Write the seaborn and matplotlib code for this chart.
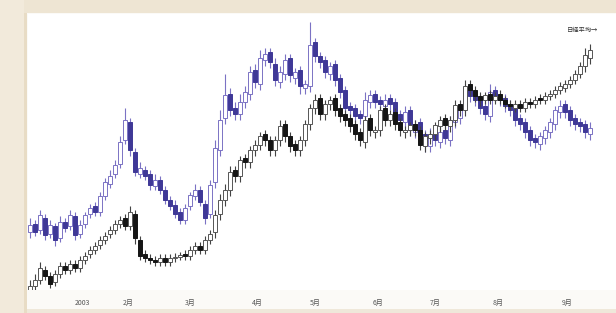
import numpy as np
import pandas as pd
import seaborn as sns
import matplotlib.pyplot as plt
from matplotlib.patches import Rectangle

# ---------------- data (arbitrary price units) -------------
month_pos = [10.4, 19.6, 32, 45.4, 57, 69.6, 81, 93.6, 107.4]
month_labels = ["2003", "2月", "3月", "4月", "5月", "6月", "7月", "8月", "9月"]
legend_text = "日経平均→"

blue_open = [68, 76, 70, 82, 66, 74, 62, 78, 74, 84,
             66, 76, 86, 94, 88, 104, 116, 126, 136, 160,
             178, 148, 126, 130, 126, 114, 120, 110, 100, 95,
             88, 80, 94, 104, 110, 96, 86, 118, 150, 182,
             206, 192, 186, 198, 206, 230, 216, 240, 248, 236,
             218, 226, 242, 222, 230, 212, 214, 258, 244, 240,
             226, 236, 222, 210, 194, 192, 186, 184, 198, 206,
             200, 194, 202, 198, 186, 178, 190, 168, 178, 166,
             154, 168, 158, 170, 160, 178, 182, 194, 212, 206,
             202, 194, 184, 210, 202, 202, 196, 192, 182, 178,
             170, 162, 156, 162, 168, 176, 188, 196, 190, 182,
             178, 176, 166]
blue_close = [75, 68, 85, 65, 75, 60, 78, 72, 85, 65,
              75, 85, 92, 88, 104, 118, 124, 135, 158, 180,
              150, 128, 132, 124, 115, 120, 110, 100, 94, 86,
              80, 92, 105, 110, 98, 82, 115, 152, 180, 205,
              190, 186, 198, 208, 228, 218, 242, 246, 238, 220,
              228, 240, 225, 228, 214, 216, 255, 244, 238, 228,
              234, 220, 208, 192, 190, 184, 182, 200, 205, 198,
              196, 200, 196, 184, 180, 188, 170, 176, 164, 155,
              166, 160, 168, 162, 180, 184, 192, 210, 204, 200,
              192, 186, 208, 204, 200, 194, 190, 180, 176, 168,
              160, 158, 164, 170, 178, 190, 194, 188, 180, 176,
              174, 168, 172]
blue_high = [82, 80, 90, 86, 80, 77, 84, 82, 90, 88,
             80, 88, 96, 98, 108, 122, 130, 140, 164, 192,
             182, 152, 138, 134, 130, 126, 124, 114, 104, 100,
             92, 96, 108, 116, 114, 100, 120, 160, 190, 226,
             212, 198, 206, 214, 234, 236, 250, 252, 252, 242,
             234, 246, 246, 232, 234, 220, 278, 262, 248, 244,
             238, 240, 226, 214, 198, 196, 190, 208, 210, 210,
             204, 206, 206, 202, 190, 194, 194, 180, 182, 170,
             172, 172, 174, 174, 184, 188, 196, 216, 216, 210,
             206, 198, 216, 214, 206, 206, 200, 196, 186, 182,
             174, 166, 168, 174, 182, 194, 200, 200, 194, 186,
             182, 180, 178]
blue_low = [62, 64, 66, 60, 62, 54, 58, 68, 70, 60,
            62, 72, 82, 84, 84, 100, 112, 122, 132, 156,
            144, 124, 122, 120, 110, 110, 106, 96, 90, 82,
            76, 76, 90, 100, 94, 76, 82, 112, 144, 176,
            184, 180, 180, 192, 200, 212, 210, 234, 232, 214,
            212, 220, 218, 216, 206, 206, 208, 238, 232, 222,
            220, 214, 202, 186, 184, 178, 176, 178, 192, 192,
            190, 188, 190, 178, 174, 172, 164, 162, 158, 148,
            148, 154, 152, 156, 154, 172, 176, 188, 198, 194,
            186, 180, 178, 198, 194, 188, 184, 174, 170, 162,
            154, 152, 150, 156, 162, 170, 182, 182, 174, 170,
            168, 162, 160]

black_open = [8, 14, 20, 30, 24, 18, 26, 34, 30, 36,
              32, 40, 46, 50, 55, 60, 66, 70, 76, 82,
              74, 86, 60, 46, 42, 40, 38, 42, 38, 42,
              43, 46, 44, 50, 54, 50, 60, 68, 86, 100,
              110, 130, 124, 142, 138, 150, 155, 166, 160, 150,
              160, 176, 164, 156, 150, 160, 176, 192, 202, 186,
              196, 202, 192, 186, 182, 176, 168, 158, 182, 168,
              170, 192, 180, 188, 178, 168, 170, 176, 170, 154,
              162, 166, 174, 182, 174, 180, 196, 190, 216, 210,
              204, 200, 206, 200, 206, 200, 196, 192, 196, 192,
              198, 196, 202, 200, 204, 206, 210, 212, 216, 220,
              226, 234, 242]
black_close = [14, 20, 32, 24, 16, 26, 34, 30, 36, 32,
               40, 44, 50, 54, 60, 64, 70, 76, 80, 74,
               88, 62, 44, 42, 40, 38, 42, 38, 42, 43,
               45, 44, 50, 54, 50, 60, 66, 85, 100, 110,
               128, 124, 140, 138, 150, 155, 164, 160, 150, 160,
               174, 164, 154, 150, 160, 176, 192, 200, 186, 196,
               200, 190, 184, 180, 174, 166, 160, 180, 170, 170,
               190, 180, 186, 176, 170, 170, 175, 170, 155, 164,
               166, 175, 180, 175, 180, 195, 190, 214, 210, 204,
               200, 205, 200, 204, 200, 196, 194, 196, 192, 198,
               196, 200, 200, 204, 206, 210, 214, 216, 220, 226,
               234, 245, 250]
black_high = [20, 26, 38, 34, 28, 30, 38, 38, 40, 40,
              44, 48, 54, 58, 64, 68, 74, 80, 84, 86,
              94, 90, 64, 50, 46, 44, 46, 46, 46, 47,
              48, 50, 54, 58, 58, 64, 70, 90, 106, 116,
              134, 134, 144, 146, 154, 160, 168, 170, 164, 164,
              180, 180, 168, 160, 164, 180, 196, 206, 206, 200,
              204, 206, 196, 190, 186, 180, 172, 184, 186, 174,
              194, 196, 190, 192, 182, 174, 178, 180, 174, 168,
              170, 178, 184, 186, 184, 200, 200, 220, 220, 214,
              208, 208, 210, 208, 210, 204, 200, 200, 200, 202,
              202, 204, 206, 208, 210, 214, 218, 220, 224, 230,
              238, 252, 256]
black_low = [4, 8, 16, 20, 12, 14, 22, 26, 26, 28,
             28, 36, 42, 46, 51, 56, 62, 66, 72, 70,
             70, 56, 40, 38, 36, 34, 34, 34, 34, 38,
             40, 40, 40, 46, 46, 46, 56, 62, 80, 94,
             104, 118, 118, 132, 132, 144, 150, 154, 144, 144,
             154, 158, 148, 144, 144, 154, 170, 186, 180, 180,
             190, 184, 178, 174, 168, 160, 154, 152, 164, 162,
             164, 174, 174, 170, 164, 162, 164, 164, 150, 148,
             156, 160, 168, 170, 168, 174, 184, 184, 204, 198,
             194, 196, 196, 196, 196, 192, 190, 188, 188, 188,
             192, 192, 196, 196, 200, 202, 206, 208, 212, 216,
             222, 228, 236]

# ---------------- styling ---------------------------------------------------------
sns.set_theme(style="white")
plt.rcParams['font.family'] = ['Noto Sans CJK JP', 'DejaVu Sans']

W, H = 616, 313
fig = plt.figure(figsize=(W / 100, H / 100), dpi=100, facecolor='#fbfaf7')

# decorative frame bands
fig.patches.append(Rectangle((0, (H - 13) / H), 1, 13 / H, transform=fig.transFigure,
                             facecolor='#eee5d3', edgecolor='none', zorder=0))
fig.patches.append(Rectangle((0, 0), 24 / W, 1, transform=fig.transFigure,
                             facecolor='#f2eadb', edgecolor='none', zorder=0))
fig.patches.append(Rectangle((24 / W, 0), 3 / W, (H - 13) / H, transform=fig.transFigure,
                             facecolor='#e8dcc5', edgecolor='none', zorder=0))
fig.patches.append(Rectangle((27 / W, 0), 1 - 27 / W, 4 / H, transform=fig.transFigure,
                             facecolor='#efe8da', edgecolor='none', zorder=0))

ax = fig.add_axes([28 / W, (H - 290) / H, (W - 28) / W, (290 - 14) / H])
ax.set_facecolor('white')


def candles(ax, o, c, h, l, up_edge, down_face, wick_col, z):
    df = pd.DataFrame({"open": o, "close": c, "high": h, "low": l})
    df["x"] = np.arange(len(df))
    up = df["close"] >= df["open"]
    ax.vlines(df["x"], df["low"], df["high"], color=wick_col, lw=0.8, zorder=z)
    bot = df[["open", "close"]].min(axis=1)
    hgt = (df["close"] - df["open"]).abs().clip(lower=1.2)
    ax.bar(df["x"][up], hgt[up], bottom=bot[up], width=0.62,
           facecolor='white', edgecolor=up_edge, linewidth=0.7, zorder=z + 0.1)
    ax.bar(df["x"][~up], hgt[~up], bottom=bot[~up], width=0.62,
           facecolor=down_face, edgecolor=down_face, linewidth=0.7, zorder=z + 0.1)


candles(ax, blue_open, blue_close, blue_high, blue_low,
        up_edge='#7b72c4', down_face='#3f3897', wick_col='#7b72c4', z=2)
candles(ax, black_open, black_close, black_high, black_low,
        up_edge='#555555', down_face='#151515', wick_col='#444444', z=3)

ax.set_xlim(-0.4, 117.2)
ax.set_ylim(10, 286)
ax.set_yticks([])
ax.set_xticks(month_pos)
ax.set_xticklabels(month_labels, fontsize=5, color='#555555')
ax.tick_params(axis='x', length=0, pad=6.5)
sns.despine(ax=ax, left=True, bottom=True, top=True, right=True)

ax.text(0.97, 0.955, legend_text, transform=ax.transAxes, ha='right', va='top',
        fontsize=4.5, color='#333333')

fig.savefig("out.png", dpi=100, facecolor=fig.get_facecolor())
